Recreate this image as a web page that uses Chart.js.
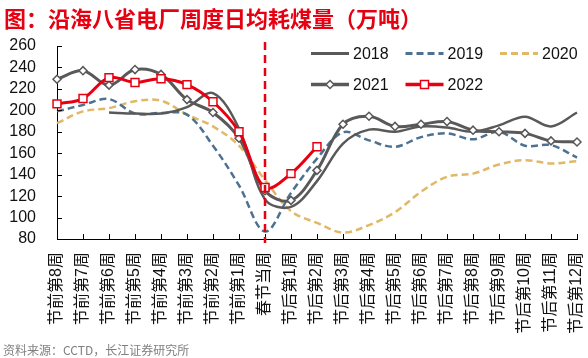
<!DOCTYPE html>
<html lang="zh">
<head>
    <meta charset="UTF-8">
    <title>沿海八省电厂周度日均耗煤量</title>
    <script src="https://cdn.jsdelivr.net/npm/chart.js"></script>
    <style>
        body { margin: 0; background: #fff; }
        #wrap { position: relative; width: 588px; height: 358px; }
        #title {
            position: absolute; left: 4px; top: 6px;
            font: bold 22px/22px "Noto Sans CJK SC", sans-serif;
            color: #e60012; white-space: nowrap;
        }
        #source {
            position: absolute; left: 3px; top: 344px;
            font: 12px/12px "Noto Sans CJK SC", sans-serif;
            color: #808080; white-space: nowrap;
        }
    </style>
</head>
<body>
    <div id="wrap">
        <canvas id="chart" width="588" height="358"></canvas>
        <div id="title">图：沿海八省电厂周度日均耗煤量（万吨）</div>
        <div id="source">资料来源：CCTD，长江证券研究所</div>
    </div>

    <script>
        // weeks around the Spring Festival
        const weeks = ['节前第8周', '节前第7周', '节前第6周', '节前第5周', '节前第4周', '节前第3周', '节前第2周', '节前第1周',
            '春节当周',
            '节后第1周', '节后第2周', '节后第3周', '节后第4周', '节后第5周', '节后第6周', '节后第7周', '节后第8周',
            '节后第9周', '节后第10周', '节后第11周', '节后第12周'];
        const festivalWeek = '春节当周';

        const y2018 = [null, null, 198, 197, 197, 203, 216, 183, 117, 110, 134, 169, 182, 180, 185, 184, 180, 186, 194, 185, 198];
        const y2019 = [199, 205, 210.5, 197, 197.5, 196, 167, 130, 87, 123, 155, 179.5, 172, 166, 175, 178.5, 173, 180, 167, 167.5, 156];
        const y2020 = [188, 199, 202, 208.5, 209, 196, 185, 167, 135, 106, 95, 86, 93, 105, 124, 138, 141, 149.5, 153.5, 150.5, 152.5];
        const y2021 = [229, 237, 223.5, 238, 233.5, 210, 198, 174, 125, 116, 144, 187, 194.5, 185, 187, 189.5, 181.5, 180, 178.5, 171.5, 170.5];
        const y2022 = [206, 211, 230.5, 226, 229.5, 224, 208, 180, 128, 141, 166, null, null, null, null, null, null, null, null, null, null];

        const yMin = 80, yMax = 260, yStep = 20;

        const grey = '#595959';
        const red = '#e60012';

        // little inward tick marks + festival marker line
        const decor = {
            id: 'decor',
            afterDatasetsDraw(chart) {
                const {ctx, chartArea, scales: {x, y}} = chart;
                ctx.save();
                ctx.strokeStyle = '#000';
                ctx.lineWidth = 1;
                ctx.beginPath();
                x.ticks.forEach((t, i) => {
                    const px = Math.round(x.getPixelForTick(i)) + 0.5;
                    ctx.moveTo(px, chartArea.bottom);
                    ctx.lineTo(px, chartArea.bottom - 5);
                });
                y.ticks.forEach((t, i) => {
                    const py = Math.round(y.getPixelForTick(i)) + 0.5;
                    ctx.moveTo(chartArea.left, py);
                    ctx.lineTo(chartArea.left + 5, py);
                });
                ctx.stroke();

                // Spring Festival week
                const fx = x.getPixelForValue(weeks.indexOf(festivalWeek));
                ctx.strokeStyle = red;
                ctx.lineWidth = 2.5;
                ctx.setLineDash([8, 5]);
                ctx.beginPath();
                ctx.moveTo(fx, chartArea.top - 4);
                ctx.lineTo(fx, chartArea.bottom + 4);
                ctx.stroke();
                ctx.restore();
            }
        };

        // legend laid out in two rows of three, top right
        const gridLegend = {
            id: 'gridLegend',
            afterDraw(chart) {
                const {ctx} = chart;
                ctx.save();
                chart.data.datasets.forEach((ds, i) => {
                    const col = i % 3, row = Math.floor(i / 3);
                    const x0 = 311 + col * 94.5;
                    const yy = 53.5 + row * 31;
                    ctx.strokeStyle = ds.borderColor;
                    ctx.lineWidth = ds.borderWidth + 0.5;
                    ctx.setLineDash(ds.borderDash || []);
                    ctx.beginPath();
                    ctx.moveTo(x0, yy);
                    ctx.lineTo(x0 + 38, yy);
                    ctx.stroke();
                    ctx.setLineDash([]);
                    if (ds.pointRadius) {
                        const cx = x0 + 19;
                        ctx.fillStyle = '#fff';
                        ctx.strokeStyle = ds.pointBorderColor;
                        ctx.lineWidth = 1.5;
                        ctx.beginPath();
                        if (ds.pointStyle === 'rect') {
                            ctx.rect(cx - 4, yy - 4, 8, 8);
                        } else {
                            ctx.moveTo(cx, yy - 4); ctx.lineTo(cx + 4, yy);
                            ctx.lineTo(cx, yy + 4); ctx.lineTo(cx - 4, yy);
                            ctx.closePath();
                        }
                        ctx.fill();
                        ctx.stroke();
                    }
                    ctx.fillStyle = '#111';
                    ctx.font = '16px "Liberation Sans", sans-serif';
                    ctx.textBaseline = 'middle';
                    ctx.textAlign = 'left';
                    ctx.fillText(ds.label, x0 + 42, yy + 1);
                });
                ctx.restore();
            }
        };

        Chart.defaults.font.family = '"Liberation Sans", "Noto Sans CJK SC", sans-serif';
        Chart.defaults.color = '#111';

        new Chart(document.getElementById('chart'), {
            type: 'line',
            data: {
                labels: weeks,
                datasets: [
                    { label: '2018', data: y2018, borderColor: grey, borderWidth: 2.5, pointRadius: 0, order: 3 },
                    { label: '2019', data: y2019, borderColor: '#4d7190', borderWidth: 2.5, borderDash: [7, 4], pointRadius: 0, order: 4 },
                    { label: '2020', data: y2020, borderColor: '#e0b866', borderWidth: 2.5, borderDash: [7, 4], pointRadius: 0, order: 5 },
                    { label: '2021', data: y2021, borderColor: grey, borderWidth: 3, pointStyle: 'rectRot', pointRadius: 4,
                      pointBackgroundColor: '#fff', pointBorderColor: grey, pointBorderWidth: 1.5, order: 2 },
                    { label: '2022', data: y2022, borderColor: red, borderWidth: 3, pointStyle: 'rect', pointRadius: 5.6,
                      pointBackgroundColor: '#fff', pointBorderColor: red, pointBorderWidth: 1.5, order: 1 }
                ]
            },
            options: {
                responsive: false,
                animation: false,
                elements: { line: { tension: 0.35 } },
                layout: { padding: { left: 9, right: 11, top: 46, bottom: 14 } },
                plugins: {
                    legend: { display: false },
                    tooltip: { enabled: false }
                },
                scales: {
                    x: {
                        offset: false,
                        grid: { display: false, drawTicks: false },
                        border: { display: true, color: '#000', width: 1 },
                        ticks: {
                            autoSkip: false, maxRotation: 90, minRotation: 90, padding: 13,
                            font: { size: 16 }, color: '#111'
                        },
                        afterFit(scale) {
                            scale.height = 105;
                            scale.paddingLeft = 0;
                            scale.paddingRight = 0;
                        }
                    },
                    y: {
                        min: yMin, max: yMax,
                        grid: { display: false, drawTicks: false },
                        border: { display: true, color: '#000', width: 1 },
                        ticks: { stepSize: yStep, autoSkip: false, padding: 21, font: { size: 16 }, color: '#111' },
                        afterFit(scale) {
                            scale.width = 48;
                        }
                    }
                }
            },
            plugins: [decor, gridLegend]
        });
    </script>
</body>
</html>
